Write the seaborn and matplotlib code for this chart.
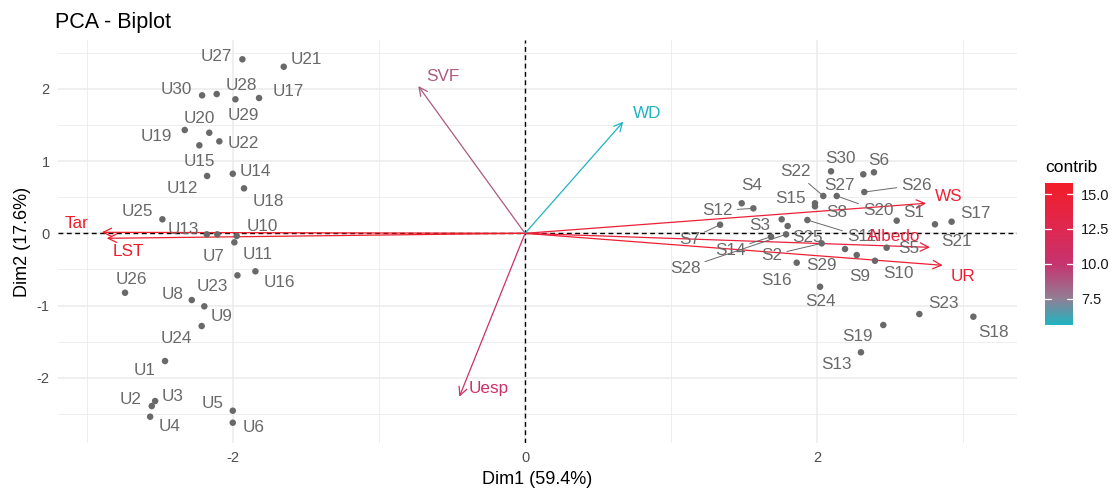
import matplotlib
matplotlib.use("Agg")
import matplotlib.pyplot as plt
import numpy as np
import pandas as pd
import seaborn as sns
from matplotlib.colors import LinearSegmentedColormap, Normalize
from matplotlib.cm import ScalarMappable

# ---- individuals (PCA scores on Dim1 / Dim2) ----
ind_names = [
    "U1", "U2", "U3", "U4", "U5", "U6", "U7", "U8", "U9", "U10",
    "U11", "U12", "U13", "U14", "U15", "U16", "U17", "U18", "U19", "U20",
    "U21", "U22", "U23", "U24", "U25", "U26", "U27", "U28", "U29", "U30",
    "S1", "S2", "S3", "S4", "S5", "S6", "S7", "S8", "S9", "S10",
    "S11", "S12", "S13", "S14", "S15", "S16", "S17", "S18", "S19", "S20",
    "S21", "S22", "S23", "S24", "S25", "S26", "S27", "S28", "S29", "S30",
]
ind_dim1 = [
    -2.466, -2.557, -2.534, -2.568, -2.002, -2.002, -2.108, -2.283, -2.197, -1.975,
    -1.991, -2.178, -2.180, -2.002, -2.231, -1.847, -1.822, -1.925, -2.331, -2.163,
    -1.653, -2.094, -1.970, -2.215, -2.484, -2.740, -1.936, -2.112, -1.984, -2.212,
    2.546, 2.032, 1.758, 1.484, 2.477, 2.390, 1.336, 1.986, 2.272, 2.397,
    1.934, 1.564, 2.301, 1.685, 1.986, 1.861, 2.922, 3.071, 2.454, 2.135,
    2.808, 2.043, 2.701, 2.021, 1.799, 2.324, 2.317, 1.788, 2.192, 2.096,
]
ind_dim2 = [
    -1.769, -2.392, -2.323, -2.540, -2.457, -2.623, -0.014, -0.924, -1.011, -0.037,
    -0.125, 0.794, -0.014, 0.825, 1.219, -0.526, 1.874, 0.623, 1.431, 1.393,
    2.307, 1.274, -0.582, -1.284, 0.194, -0.823, 2.410, 1.929, 1.856, 1.911,
    0.175, -0.139, 0.194, 0.416, -0.199, 0.845, 0.119, 0.374, -0.301, -0.380,
    0.184, 0.346, -1.648, -0.047, 0.416, -0.407, 0.161, -1.155, -1.270, 0.517,
    0.125, 0.517, -1.118, -0.740, 0.101, 0.572, 0.817, -0.014, -0.217, 0.859,
]
# repelled label positions
ind_label_dim1 = [
    -2.607, -2.701, -2.413, -2.438, -2.139, -1.861, -2.135, -2.416, -2.078, -1.803,
    -1.834, -2.351, -2.340, -1.845, -2.231, -1.683, -1.625, -1.758, -2.527, -2.233,
    -1.500, -1.929, -2.141, -2.386, -2.655, -2.694, -2.112, -1.945, -1.929, -2.386,
    2.660, 1.690, 1.610, 1.553, 2.625, 2.420, 1.125, 2.135, 2.295, 2.557,
    2.306, 1.317, 2.130, 1.404, 1.815, 1.724, 3.082, 3.207, 2.276, 2.420,
    2.957, 1.849, 2.865, 2.021, 1.934, 2.683, 2.153, 1.096, 2.032, 2.158,
]
ind_label_dim2 = [
    -1.893, -2.299, -2.253, -2.669, -2.355, -2.687, -0.324, -0.841, -1.145, 0.091,
    -0.287, 0.614, 0.055, 0.853, 0.992, -0.684, 1.961, 0.438, 1.338, 1.593,
    2.410, 1.247, -0.740, -1.454, 0.299, -0.637, 2.446, 2.054, 1.625, 1.994,
    0.285, -0.301, 0.115, 0.669, -0.208, 1.015, -0.083, 0.285, -0.601, -0.554,
    -0.047, 0.313, -1.810, -0.231, 0.485, -0.647, 0.277, -1.377, -1.432, 0.313,
    -0.116, 0.853, -0.970, -0.947, -0.055, 0.669, 0.669, -0.485, -0.439, 1.039,
]
# labels joined to their point by a leader segment
leader_lines = ["S2", "S7", "S11", "S12", "S14", "S20", "S22", "S26", "S28"]

# ---- variables (scaled loadings) ----
var_names = ["Tar", "LST", "WS", "Albedo", "UR", "SVF", "WD", "Uesp"]
var_dim1 = [-2.899, -2.865, 2.747, 2.774, 2.861, -0.731, 0.673, -0.450]
var_dim2 = [0.014, -0.069, 0.416, -0.194, -0.443, 2.040, 1.546, -2.263]
var_contrib = [15.8, 15.4, 14.6, 14.2, 15.0, 8.7, 5.6, 10.7]
var_label_dim1 = [-3.070, -2.717, 2.899, 2.523, 2.998, -0.560, 0.834, -0.251]
var_label_dim2 = [0.139, -0.255, 0.507, -0.047, -0.601, 2.169, 1.662, -2.147]

colorbar_ticks = [7.5, 10.0, 12.5, 15.0]

ind = pd.DataFrame({"name": ind_names, "Dim1": ind_dim1, "Dim2": ind_dim2,
                    "lx": ind_label_dim1, "ly": ind_label_dim2})
var = pd.DataFrame({"name": var_names, "Dim1": var_dim1, "Dim2": var_dim2,
                    "contrib": var_contrib, "lx": var_label_dim1, "ly": var_label_dim2})

sns.set_theme(style="white")
plt.rcParams["font.family"] = ["Liberation Sans", "DejaVu Sans"]

ind_col = "#696969"
# teal -> muted mauve -> magenta -> red, close to a perceptual gradient
cmap = LinearSegmentedColormap.from_list(
    "contrib",
    [(0.0, "#1FB4C0"), (0.19, "#937C93"), (0.43, "#C6336F"),
     (0.68, "#DE2850"), (1.0, "#F21D28")],
)
norm = Normalize(vmin=min(var_contrib), vmax=max(var_contrib))

fig = plt.figure(figsize=(11.16, 4.9), dpi=100)
ax = fig.add_axes([0.0520, 0.0959, 0.8593, 0.8224])
ax.set_xlim(-3.199, 3.370)
ax.set_ylim(-2.904, 2.677)

# grid in the style of theme_minimal
ax.set_xticks([-2, 0, 2])
ax.set_yticks([-2, -1, 0, 1, 2])
ax.set_xticks([-3, -1, 1, 3], minor=True)
ax.set_yticks([-2.5, -1.5, -0.5, 0.5, 1.5, 2.5], minor=True)
ax.grid(which="major", color="#EBEBEB", lw=1.1, zorder=0)
ax.grid(which="minor", color="#EBEBEB", lw=0.6, zorder=0)
ax.set_axisbelow(True)
for sp in ax.spines.values():
    sp.set_visible(False)
ax.tick_params(which="minor", length=0)
ax.tick_params(which="major", length=3.5, width=0.8, color="#333333",
               labelsize=10.5, labelcolor="#4D4D4D", pad=2.5)
ax.set_xticklabels(["-2", "0", "2"])
ax.set_yticklabels(["-2", "-1", "0", "1", "2"])

ax.axhline(0, color="black", lw=1.0, ls=(0, (3.5, 2.5)), zorder=1)
ax.axvline(0, color="black", lw=1.0, ls=(0, (3.5, 2.5)), zorder=1)

# individuals
sns.scatterplot(data=ind, x="Dim1", y="Dim2", color=ind_col, s=22,
                edgecolor="none", legend=False, ax=ax, zorder=3)
for _, r in ind.iterrows():
    if r["name"] in leader_lines:
        ax.annotate(r["name"], xy=(r["Dim1"], r["Dim2"]), xytext=(r["lx"], r["ly"]),
                    ha="center", va="center", fontsize=12.3, color=ind_col, zorder=4,
                    arrowprops=dict(arrowstyle="-", color=ind_col, lw=0.7,
                                    shrinkA=1, shrinkB=2))
    else:
        ax.text(r["lx"], r["ly"], r["name"], ha="center", va="center",
                fontsize=12.3, color=ind_col, zorder=4)

# variables
for _, r in var.iterrows():
    c = cmap(norm(r["contrib"]))
    ax.annotate("", xy=(r["Dim1"], r["Dim2"]), xytext=(0, 0), zorder=2,
                arrowprops=dict(arrowstyle="->,head_length=0.6,head_width=0.3",
                                color=c, lw=0.9, shrinkA=0, shrinkB=0,
                                mutation_scale=10))
    ax.text(r["lx"], r["ly"], r["name"], ha="center", va="center",
            fontsize=12.3, color=c, zorder=4)

ax.set_xlabel("Dim1 (59.4%)", fontsize=13, color="black", labelpad=4)
ax.set_ylabel("Dim2 (17.6%)", fontsize=13, color="black", labelpad=4)
fig.text(55 / 1116, 1 - 28 / 490, "PCA - Biplot", fontsize=15.5, color="black",
         ha="left", va="baseline")

# colour bar for contrib
cax = fig.add_axes([1045 / 1116, 1 - 325 / 490, 28 / 1116, 142 / 490])
cb = fig.colorbar(ScalarMappable(norm=norm, cmap=cmap), cax=cax)
cb.outline.set_visible(False)
cb.set_ticks(colorbar_ticks)
cb.set_ticklabels([f"{t:.1f}" for t in colorbar_ticks])
cax.tick_params(length=0, labelsize=10.5, labelcolor="#1A1A1A", pad=6)
for t in colorbar_ticks:
    cax.plot([0, 0.2], [t, t], color="white", lw=0.9, transform=cax.get_yaxis_transform())
    cax.plot([0.8, 1.0], [t, t], color="white", lw=0.9, transform=cax.get_yaxis_transform())
fig.text(1045 / 1116, 1 - 167 / 490, "contrib", fontsize=12.5, color="black",
         ha="left", va="center")

fig.savefig("out.png", dpi=100)
